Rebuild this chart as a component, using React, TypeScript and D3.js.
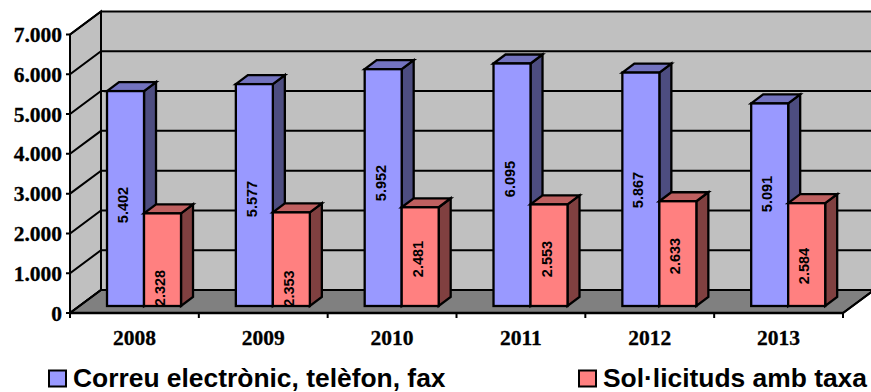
import React from "react";
import * as d3 from "d3";

const years = ["2008", "2009", "2010", "2011", "2012", "2013"];
const contact = [5402, 5577, 5952, 6095, 5867, 5091];
const taxed = [2328, 2353, 2481, 2553, 2633, 2584];
const contactLabels = ["5.402", "5.577", "5.952", "6.095", "5.867", "5.091"];
const taxedLabels = ["2.328", "2.353", "2.481", "2.553", "2.633", "2.584"];
const yTicks = [0, 1000, 2000, 3000, 4000, 5000, 6000, 7000];
const seriesNames = ["Correu electrònic, telèfon, fax", "Sol·licituds amb taxa"];

// label centres (px) as drawn by the original
const contactLabelY = [205, 199, 183, 179, 190, 194];
const taxedLabelY = [288, 288.5, 259, 259, 256, 266];

const W = 871, H = 392;
const x0 = 70, x1 = 843, y0 = 313, y7 = 34.5;
const wallDx = 31, wallDy = -23;
const barBaseDx = 9.6, barBaseDy = -7;
const barDx = 12, barDy = -9;

const x = d3.scaleBand<string>().domain(years).range([x0, x1]);
const y = d3.scaleLinear().domain([0, 7000]).range([y0, y7]);
const fmt = (v: number) => (v === 0 ? "0" : d3.format(",")(v).replace(",", "."));

const poly = (pts: number[][]) => pts.map((p) => p.join(",")).join(" ");

function Bar({ left, width, value, front, top, side }: any) {
  const bx = left + barBaseDx;
  const by0 = y(0) + barBaseDy;
  const by1 = y(value) + barBaseDy;
  return (
    <g stroke="#000" strokeWidth={2.3} strokeLinejoin="miter">
      <polygon fill={side} points={poly([[bx + width, by1], [bx + width + barDx, by1 + barDy], [bx + width + barDx, by0 + barDy], [bx + width, by0]])} />
      <polygon fill={top} points={poly([[bx, by1], [bx + barDx, by1 + barDy], [bx + width + barDx, by1 + barDy], [bx + width, by1]])} />
      <rect x={bx} y={by1} width={width} height={by0 - by1} fill={front} />
    </g>
  );
}

export default function App() {
  const step = x.step();
  const barW = 37;
  const inset = (step - 2 * barW) / 2;
  const labelStyle: any = { fontFamily: "Liberation Sans", fontWeight: "bold", fontSize: 14.5, textAnchor: "middle" };
  const serif: any = { fontFamily: "Liberation Serif", fontWeight: "bold", fontSize: 21.5, stroke: "#000", strokeWidth: 0.3 };
  return (
    <svg width={W} height={H} style={{ position: "absolute", left: 0, top: 0 }}>
      <rect width={W} height={H} fill="#fff" />
      {/* walls */}
      <polygon fill="#c0c0c0" points={poly([[x0 + wallDx, y7 + wallDy], [W + 5, y7 + wallDy], [W + 5, y0 + wallDy], [x0 + wallDx, y0 + wallDy]])} />
      <polygon fill="#c0c0c0" stroke="#000" strokeWidth={2} points={poly([[x0, y7], [x0 + wallDx, y7 + wallDy], [x0 + wallDx, y0 + wallDy], [x0, y0]])} />
      <polygon fill="#808080" stroke="#000" strokeWidth={2} points={poly([[x0, y0], [x0 + wallDx, y0 + wallDy], [x1 + wallDx, y0 + wallDy], [x1, y0]])} />
      {yTicks.map((t) => (
        <g key={t} stroke="#000" strokeWidth={2} fill="none">
          <polyline points={poly([[x0 - 4, y(t)], [x0, y(t)], [x0 + wallDx, y(t) + wallDy], [W + 5, y(t) + wallDy]])} />
        </g>
      ))}
      <line x1={x0 + wallDx} x2={x0 + wallDx} y1={y7 + wallDy} y2={y0 + wallDy} stroke="#000" strokeWidth={2} />
      {/* bars */}
      {years.map((yr, i) => {
        const left = x(yr)! + inset;
        return (
          <g key={yr}>
            <Bar left={left} width={barW} value={contact[i]} front="#9999ff" top="#7373bf" side="#4d4d80" />
            <Bar left={left + barW} width={barW} value={taxed[i]} front="#ff8080" top="#bf6060" side="#804040" />
            <text transform={`translate(${left + barBaseDx + barW / 2 + 2.5},${contactLabelY[i]}) rotate(-90)`} {...labelStyle}>{contactLabels[i]}</text>
            <text transform={`translate(${left + barBaseDx + barW * 1.5 + 2.5},${taxedLabelY[i]}) rotate(-90)`} {...labelStyle}>{taxedLabels[i]}</text>
          </g>
        );
      })}
      {/* axes */}
      <line x1={x0} x2={x1} y1={y0} y2={y0} stroke="#000" strokeWidth={2.3} />
      <line x1={x0} x2={x0} y1={y7} y2={y0} stroke="#000" strokeWidth={2} />
      <line x1={x1} x2={x1 + wallDx} y1={y0} y2={y0 + wallDy} stroke="#000" strokeWidth={2} />
      {[...years.map((yr) => x(yr)!), x1].map((tx) => (
        <line key={tx} x1={tx} x2={tx} y1={y0} y2={y0 + 5} stroke="#000" strokeWidth={2} />
      ))}
      {yTicks.map((t) => (
        <text key={t} x={x0 - 8} y={y(t) + 7.5} textAnchor="end" {...serif}>{fmt(t)}</text>
      ))}
      {years.map((yr) => (
        <text key={yr} x={x(yr)! + x.bandwidth() / 2} y={344.5} textAnchor="middle" {...serif}>{yr}</text>
      ))}
      {/* legend */}
      <rect x={49} y={370.5} width={17} height={16} fill="#9999ff" stroke="#000" strokeWidth={2} />
      <text x={73} y={387} fontFamily="Liberation Sans" fontWeight="bold" fontSize={26.4}>{seriesNames[0]}</text>
      <rect x={579} y={370.5} width={17} height={16} fill="#ff8080" stroke="#000" strokeWidth={2} />
      <text x={603} y={387} fontFamily="Liberation Sans" fontWeight="bold" fontSize={26.4}>{seriesNames[1]}</text>
    </svg>
  );
}
